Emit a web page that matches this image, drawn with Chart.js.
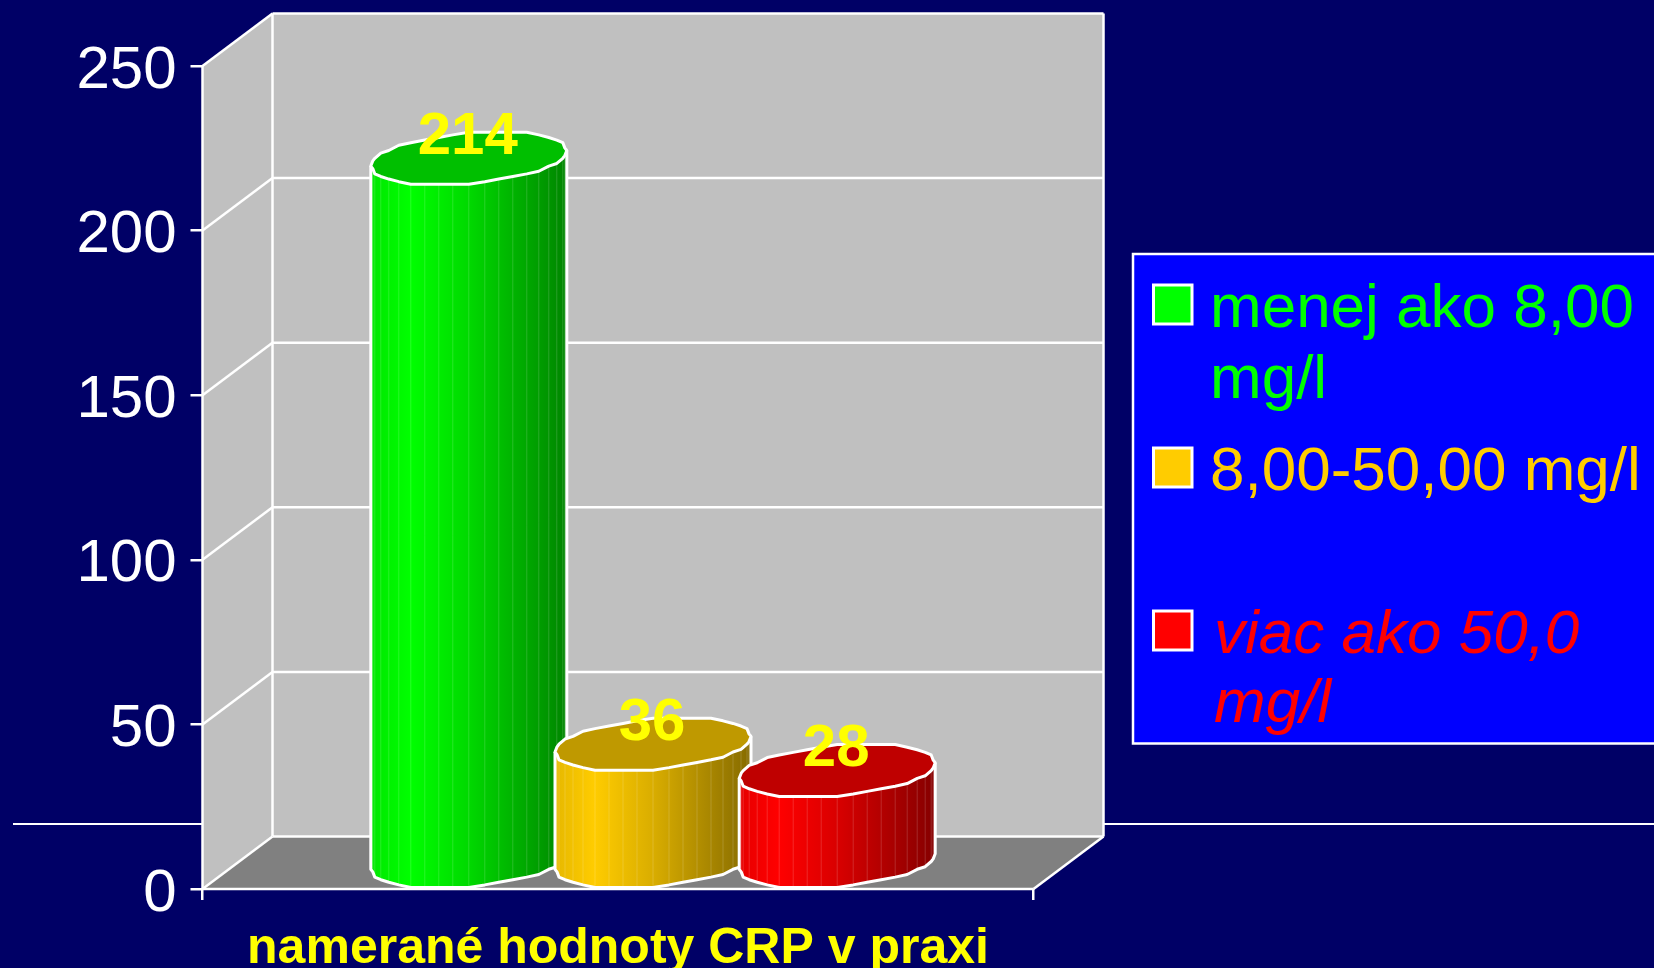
<!DOCTYPE html>
<html lang="sk">
<head>
  <meta charset="UTF-8" />
  <title>CRP v praxi</title>
  <script src="https://cdn.jsdelivr.net/npm/chart.js"></script>
  <style>
    html, body { margin: 0; padding: 0; background: #000066; overflow: hidden; }
    canvas { display: block; }
  </style>
</head>
<body>
  <canvas id="crpChart" width="1654" height="968"></canvas>

  <script>
    const categories = ["namerané hodnoty CRP v praxi"];
    const seriesNames = ["menej ako 8,00 mg/l", "8,00-50,00 mg/l", "viac ako 50,0 mg/l"];
    const lowValues = [214];
    const midValues = [36];
    const highValues = [28];
    const sideColors = [[0, 255, 0], [255, 204, 0], [255, 0, 0]];
    const legendLines = [["menej ako 8,00", "mg/l"], ["8,00-50,00 mg/l"], ["viac ako 50,0", "mg/l"]];

    const FONT = '"Liberation Sans", Arial, sans-serif';
    const DEPTH_X = 70;
    const DEPTH_Y = 52.5;
    const FACETS = 20;

    const rgb = (c, f) => `rgb(${Math.round(c[0] * f)},${Math.round(c[1] * f)},${Math.round(c[2] * f)})`;
    const snap = (v, grid) => Math.round(v / grid) * grid;

    // the slide rule running behind the chart
    const slideLine = {
      id: "slideLine",
      beforeDraw(chart) {
        const ctx = chart.ctx;
        ctx.save();
        ctx.strokeStyle = "#fff";
        ctx.lineWidth = 2;
        ctx.beginPath();
        ctx.moveTo(13, 824);
        ctx.lineTo(1654, 824);
        ctx.stroke();
        ctx.restore();
      }
    };

    // side wall, back wall and floor of the 3D box
    const box3d = {
      id: "box3d",
      beforeDatasetsDraw(chart) {
        const ctx = chart.ctx;
        const { left, right, top, bottom } = chart.chartArea;
        const y = chart.scales.y;
        const poly = (pts, fill) => {
          ctx.beginPath();
          pts.forEach((p, i) => i ? ctx.lineTo(p[0], p[1]) : ctx.moveTo(p[0], p[1]));
          ctx.closePath();
          ctx.fillStyle = fill;
          ctx.fill();
        };
        const line = (x1, y1, x2, y2) => {
          ctx.beginPath();
          ctx.moveTo(x1, y1);
          ctx.lineTo(x2, y2);
          ctx.stroke();
        };
        ctx.save();
        poly([[left, top], [left + DEPTH_X, top - DEPTH_Y], [left + DEPTH_X, bottom - DEPTH_Y], [left, bottom]], "#c0c0c0");
        poly([[left + DEPTH_X, top - DEPTH_Y], [right + DEPTH_X, top - DEPTH_Y], [right + DEPTH_X, bottom - DEPTH_Y], [left + DEPTH_X, bottom - DEPTH_Y]], "#c0c0c0");
        poly([[left, bottom], [left + DEPTH_X, bottom - DEPTH_Y], [right + DEPTH_X, bottom - DEPTH_Y], [right, bottom]], "#808080");
        ctx.strokeStyle = "#fff";
        ctx.lineWidth = 2.5;
        y.ticks.forEach(t => {
          const py = y.getPixelForValue(t.value);
          line(left, py, left + DEPTH_X, py - DEPTH_Y);
          line(left + DEPTH_X, py - DEPTH_Y, right + DEPTH_X, py - DEPTH_Y);
        });
        line(left, top, left, bottom);
        line(left + DEPTH_X, top - DEPTH_Y, left + DEPTH_X, bottom - DEPTH_Y);
        line(right + DEPTH_X, top - DEPTH_Y, right + DEPTH_X, bottom - DEPTH_Y);
        line(left, bottom, right, bottom);
        line(right, bottom, right + DEPTH_X, bottom - DEPTH_Y);
        ctx.restore();
      }
    };

    // bars come out as faceted cylinders, positioned from the bar elements
    const cylinders = {
      id: "cylinders",
      beforeDatasetDraw() {
        return false;
      },
      afterDatasetsDraw(chart) {
        const ctx = chart.ctx;
        const metas = chart.data.datasets.map((d, i) => chart.getDatasetMeta(i).data[0]);
        ctx.save();
        metas.forEach((bar, i) => {
          const cx = bar.x + DEPTH_X / 2;
          const a = bar.width * 0.533;
          const b = 25.5;
          const tilt = 7.5;
          const topY = bar.y - DEPTH_Y / 2;
          const baseY = bar.base - DEPTH_Y / 2;
          // the outline sits on a coarse grid, that gives the wobbly edge
          const ring = (t, cy) => [
            cx + snap(a * Math.cos(t), 2),
            cy + snap(b * Math.sin(t) - tilt * Math.cos(t), 2.6)
          ];
          const color = sideColors[i];
          const left = cx - a, right = cx + a;

          const grad = ctx.createLinearGradient(left, 0, right, 0);
          grad.addColorStop(0, rgb(color, 0.9));
          grad.addColorStop(0.2, rgb(color, 1));
          grad.addColorStop(0.5, rgb(color, 0.85));
          grad.addColorStop(1, rgb(color, 0.52));

          // body
          ctx.beginPath();
          for (let k = 0; k <= FACETS; k++) {
            const p = ring(Math.PI - Math.PI * k / FACETS, topY);
            k ? ctx.lineTo(p[0], p[1]) : ctx.moveTo(p[0], p[1]);
          }
          for (let k = FACETS; k >= 0; k--) {
            const p = ring(Math.PI - Math.PI * k / FACETS, baseY);
            ctx.lineTo(p[0], p[1]);
          }
          ctx.closePath();
          ctx.fillStyle = grad;
          ctx.fill();

          // facet seams
          ctx.strokeStyle = "rgba(255,255,255,0.16)";
          ctx.lineWidth = 1;
          for (let k = 1; k < FACETS; k++) {
            const p = ring(Math.PI - Math.PI * k / FACETS, topY);
            const q = ring(Math.PI - Math.PI * k / FACETS, baseY);
            ctx.beginPath();
            ctx.moveTo(p[0], p[1]);
            ctx.lineTo(q[0], q[1]);
            ctx.stroke();
          }

          ctx.strokeStyle = "#fff";
          ctx.lineWidth = 3;
          ctx.lineJoin = "round";

          // left side, bottom edge, right side
          ctx.beginPath();
          const start = ring(Math.PI, topY);
          ctx.moveTo(start[0], start[1]);
          for (let k = 0; k <= FACETS; k++) {
            const p = ring(Math.PI - Math.PI * k / FACETS, baseY);
            ctx.lineTo(p[0], p[1]);
          }
          const end = ring(0, topY);
          ctx.lineTo(end[0], end[1]);
          ctx.stroke();

          // lid
          ctx.beginPath();
          for (let k = 0; k < FACETS * 2; k++) {
            const p = ring(Math.PI * k / FACETS, topY);
            k ? ctx.lineTo(p[0], p[1]) : ctx.moveTo(p[0], p[1]);
          }
          ctx.closePath();
          ctx.fillStyle = rgb(color, 0.75);
          ctx.fill();
          ctx.stroke();
        });

        // value labels
        ctx.fillStyle = "#ffff00";
        ctx.font = "bold 60px " + FONT;
        ctx.textAlign = "center";
        ctx.textBaseline = "middle";
        metas.forEach((bar, i) => {
          const value = chart.data.datasets[i].data[0];
          ctx.fillText(String(value), bar.x + DEPTH_X / 2 - 1, bar.y - DEPTH_Y / 2 - 21);
        });
        ctx.restore();
      }
    };

    const legendBox = {
      id: "legendBox",
      afterDraw(chart) {
        const ctx = chart.ctx;
        const swatchTops = [285, 448, 611];
        const baselines = [[327, 398], [490], [653, 722]];
        ctx.save();
        ctx.fillStyle = "#0000ff";
        ctx.strokeStyle = "#fff";
        ctx.lineWidth = 2.5;
        ctx.fillRect(1133, 254, 530, 489.5);
        ctx.strokeRect(1133, 254, 530, 489.5);
        ctx.textAlign = "left";
        ctx.textBaseline = "alphabetic";
        legendLines.forEach((lines, i) => {
          ctx.fillStyle = rgb(sideColors[i], 1);
          ctx.fillRect(1153.5, swatchTops[i], 38.5, 39);
          ctx.lineWidth = 3;
          ctx.strokeRect(1153.5, swatchTops[i], 38.5, 39);
          ctx.font = (i === 2 ? "italic " : "") + "62px " + FONT;
          lines.forEach((text, j) => {
            ctx.fillText(text, i === 2 ? 1214 : 1210, baselines[i][j]);
          });
        });
        ctx.restore();
      }
    };

    new Chart(document.getElementById("crpChart").getContext("2d"), {
      type: "bar",
      data: {
        labels: categories,
        datasets: [
          { label: seriesNames[0], data: lowValues, backgroundColor: rgb(sideColors[0], 1) },
          { label: seriesNames[1], data: midValues, backgroundColor: rgb(sideColors[1], 1) },
          { label: seriesNames[2], data: highValues, backgroundColor: rgb(sideColors[2], 1) }
        ]
      },
      plugins: [slideLine, box3d, cylinders, legendBox],
      options: {
        responsive: false,
        animation: false,
        events: [],
        layout: { padding: { top: 66, right: 620.5, left: 0, bottom: 0 } },
        datasets: { bar: { categoryPercentage: 0.665, barPercentage: 1 } },
        plugins: { legend: { display: false }, tooltip: { enabled: false } },
        scales: {
          x: {
            afterFit: s => { s.height = 79; },
            border: { display: false },
            grid: { drawOnChartArea: false, color: "#fff", lineWidth: 2.5, tickLength: 11 },
            ticks: { color: "#ffff00", font: { family: FONT, size: 50, weight: "bold" }, padding: 19, maxRotation: 0 }
          },
          y: {
            min: 0,
            max: 250,
            afterFit: s => { s.width = 202.5; },
            border: { display: false },
            grid: { drawOnChartArea: false, color: "#fff", lineWidth: 2.5, tickLength: 12 },
            ticks: { stepSize: 50, color: "#fff", font: { family: FONT, size: 60 }, padding: 14, labelOffset: 5 }
          }
        }
      }
    });
  </script>
</body>
</html>
